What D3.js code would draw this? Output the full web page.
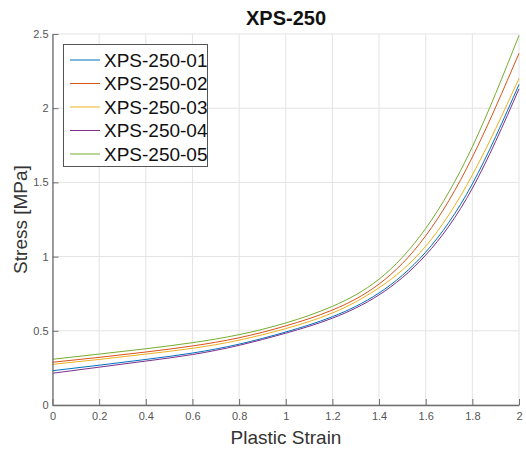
<!DOCTYPE html>
<html>
<head>
<meta charset="utf-8">
<script src="https://cdn.jsdelivr.net/npm/d3@7"></script>
<style>
  html, body { margin: 0; padding: 0; background: #fff; }
  svg { display: block; font-family: "Liberation Sans", Arial, sans-serif; }
</style>
</head>
<body>
<svg id="chart" width="526" height="453"></svg>
<script>
// ---- data ----
const strain = [0, 0.2, 0.4, 0.6, 0.8, 1.0, 1.2, 1.4, 1.6, 1.8, 2.0];
const seriesNames = ["XPS-250-01", "XPS-250-02", "XPS-250-03", "XPS-250-04", "XPS-250-05"];
const s01 = [0.231, 0.268, 0.307, 0.350, 0.410, 0.492, 0.595, 0.755, 1.030, 1.49, 2.16];
const s02 = [0.288, 0.321, 0.357, 0.398, 0.453, 0.533, 0.640, 0.815, 1.140, 1.67, 2.37];
const s03 = [0.274, 0.307, 0.343, 0.382, 0.437, 0.515, 0.620, 0.790, 1.070, 1.55, 2.20];
const s04 = [0.214, 0.255, 0.296, 0.340, 0.402, 0.484, 0.585, 0.742, 1.010, 1.46, 2.13];
const s05 = [0.308, 0.343, 0.379, 0.420, 0.474, 0.553, 0.665, 0.848, 1.190, 1.74, 2.49];
const seriesValues = [s01, s02, s03, s04, s05];
const colors = ["#0072BD", "#D95319", "#EDB120", "#7E2F8E", "#77AC30"];
const xTicks = [0, 0.2, 0.4, 0.6, 0.8, 1, 1.2, 1.4, 1.6, 1.8, 2];
const yTicks = [0, 0.5, 1, 1.5, 2, 2.5];
const titleText = "XPS-250";
const xLabel = "Plastic Strain";
const yLabel = "Stress [MPa]";

// ---- layout ----
const svg = d3.select("#chart");
const L = 52.5, R = 519, T = 34, B = 405;
const x = d3.scaleLinear().domain([0, 2]).range([L, R]);
const y = d3.scaleLinear().domain([0, 2.5]).range([B, T]);

// grid
const grid = svg.append("g");
grid.selectAll("line.gx").data(xTicks).join("line")
  .attr("x1", d => x(d)).attr("x2", d => x(d))
  .attr("y1", T).attr("y2", B)
  .attr("stroke", "#e3e3e3").attr("stroke-width", 1);
grid.selectAll("line.gy").data(yTicks).join("line")
  .attr("x1", L).attr("x2", R)
  .attr("y1", d => y(d)).attr("y2", d => y(d))
  .attr("stroke", "#e3e3e3").attr("stroke-width", 1);

// series lines
const line = d3.line()
  .x((d, i) => x(strain[i]))
  .y(d => y(d))
  .curve(d3.curveNatural);
svg.append("g").selectAll("path").data(seriesValues).join("path")
  .attr("d", d => line(d))
  .attr("fill", "none")
  .attr("stroke", (d, i) => colors[i])
  .attr("stroke-width", 1);

// axes (ticks inward, MATLAB style)
const xAxis = d3.axisBottom(x).tickValues(xTicks).tickFormat(d3.format("~g"))
  .tickSizeInner(-6).tickSizeOuter(0).tickPadding(10);
const yAxis = d3.axisLeft(y).tickValues(yTicks).tickFormat(d3.format("~g"))
  .tickSizeInner(-6).tickSizeOuter(0).tickPadding(10);

const gx = svg.append("g").attr("transform", `translate(0,${B})`).call(xAxis);
const gy = svg.append("g").attr("transform", `translate(${L},0)`).call(yAxis);
[gx, gy].forEach(g => {
  g.select(".domain").attr("stroke", "#6e6e6e").attr("stroke-width", 1.3);
  g.selectAll(".tick line").attr("stroke", "#6e6e6e");
  g.selectAll(".tick text").attr("fill", "#555").attr("font-size", 11)
    .attr("font-family", "'Liberation Sans', Arial, sans-serif");
});
gx.selectAll(".tick text").attr("dy", "0.71em").attr("y", 7);
gy.selectAll(".tick text").attr("x", -4);

// title & labels
svg.append("text").attr("x", 286).attr("y", 24.5).attr("text-anchor", "middle")
  .attr("font-size", 20).attr("font-weight", "bold").attr("fill", "#111")
  .text(titleText);
svg.append("text").attr("x", 286).attr("y", 444).attr("text-anchor", "middle")
  .attr("font-size", 19).attr("fill", "#333").text(xLabel);
svg.append("text").attr("transform", `translate(27,${(T + B) / 2}) rotate(-90)`)
  .attr("text-anchor", "middle").attr("font-size", 19).attr("fill", "#333")
  .text(yLabel);

// legend
const lg = svg.append("g");
lg.append("rect").attr("x", 63.5).attr("y", 44.5).attr("width", 144).attr("height", 122)
  .attr("fill", "#fff").attr("stroke", "#555").attr("stroke-width", 1);
const items = lg.selectAll("g.item").data(seriesNames).join("g")
  .attr("transform", (d, i) => `translate(0,${60 + i * 23.5})`);
items.append("line").attr("x1", 70).attr("x2", 100).attr("y1", 0).attr("y2", 0)
  .attr("stroke", (d, i) => colors[i]).attr("stroke-width", 1);
items.append("text").attr("x", 104).attr("y", 0).attr("dy", "0.36em")
  .attr("font-size", 19).attr("fill", "#111").text(d => d);
</script>
</body>
</html>
